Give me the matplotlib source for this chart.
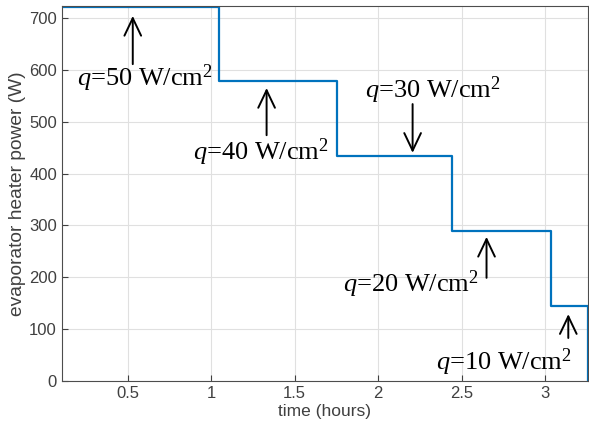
import matplotlib.pyplot as plt
import numpy as np

plt.rcParams['font.family'] = ['Liberation Sans', 'DejaVu Sans']
plt.rcParams['mathtext.fontset'] = 'custom'
plt.rcParams['mathtext.rm'] = 'Liberation Serif'
plt.rcParams['mathtext.it'] = 'Liberation Serif:italic'

# step levels of heater power (W) and switch times (hours)
step_times = [0.10, 1.048, 1.754, 2.443, 3.036, 3.258]
step_levels = [722, 578, 434, 289, 145, 0]

labels = ['$q$=50 W/cm$^2$', '$q$=40 W/cm$^2$', '$q$=30 W/cm$^2$',
          '$q$=20 W/cm$^2$', '$q$=10 W/cm$^2$']
label_xy = [(0.602, 569), (1.296, 426), (2.326, 546), (2.195, 172), (2.757, 21)]
arrow_x = [0.530, 1.332, 2.207, 2.65, 3.14]
arrow_from = [611, 474, 534, 199, 83]
arrow_to = [704, 565, 440, 278, 129]

fig = plt.figure(figsize=(5.89, 4.33), dpi=100)
ax = fig.add_axes([0.105, 0.120, 0.893, 0.866])

ax.step(step_times, step_levels, where='post', color='#0072BD', lw=1.6)

for lab, (tx, ty), ax_x, a0, a1 in zip(labels, label_xy, arrow_x, arrow_from, arrow_to):
    ax.text(tx, ty, lab, fontsize=19, ha='center', va='baseline', color='black',
            fontfamily='Liberation Serif')
    ax.annotate('', xy=(ax_x, a1), xytext=(ax_x, a0),
                arrowprops=dict(arrowstyle='->,head_length=0.42,head_width=0.2',
                                color='black', lw=1.4, mutation_scale=30,
                                shrinkA=0, shrinkB=0))

ax.set_xlim(0.105, 3.257)
ax.set_ylim(0, 723)
ax.set_xticks([0.5, 1, 1.5, 2, 2.5, 3])
ax.set_xticklabels(['0.5', '1', '1.5', '2', '2.5', '3'])
ax.set_yticks(range(0, 701, 100))
ax.grid(True, color='#e0e0e0', lw=0.8)
ax.set_axisbelow(True)
ax.tick_params(direction='in', colors='#404040', labelsize=12, length=4)
for s in ax.spines.values():
    s.set_color('#4d4d4d')
ax.set_xlabel('time (hours)', fontsize=12.5, color='#404040', labelpad=2)
ax.set_ylabel('evaporator heater power (W)', fontsize=13.8, color='#404040', labelpad=2)

plt.savefig('out.png', dpi=100)
